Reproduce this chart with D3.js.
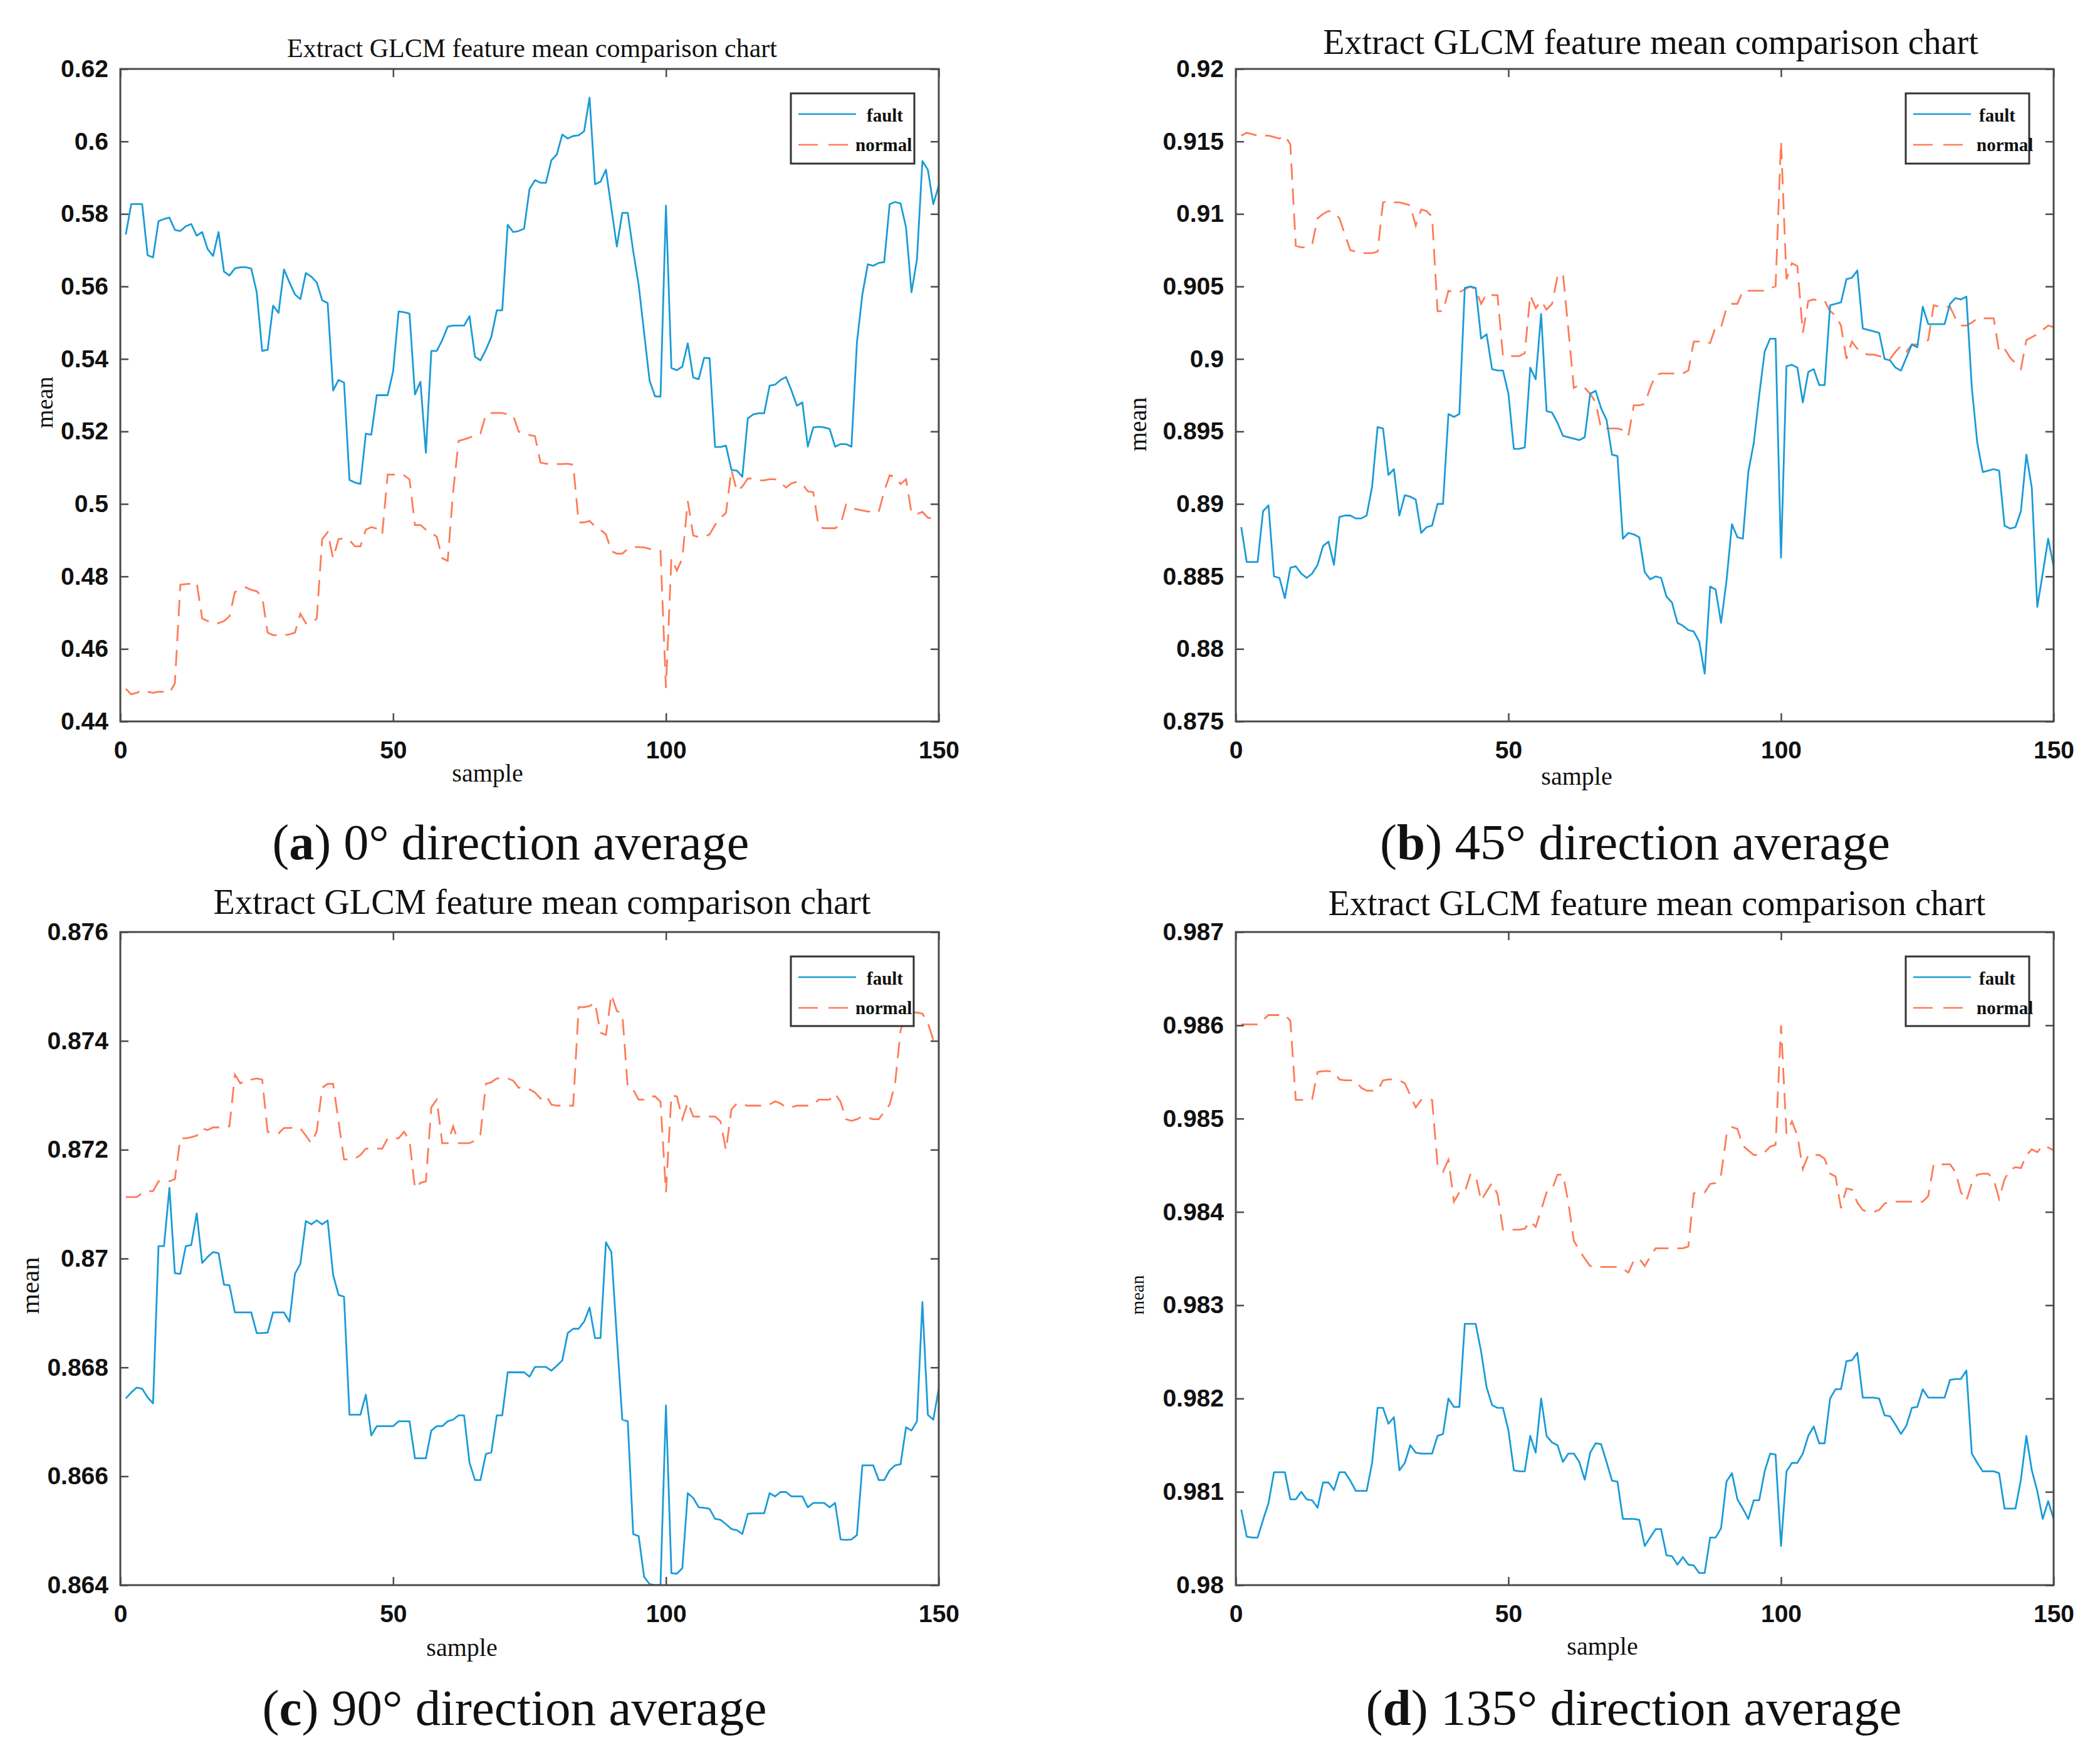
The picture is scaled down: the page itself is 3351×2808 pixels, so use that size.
<!DOCTYPE html>
<html>
<head>
<meta charset="utf-8">
<script src="https://cdn.jsdelivr.net/npm/d3@7"></script>
<style>
  body { margin: 0; background: #fff; }
  svg { display: block; }
</style>
</head>
<body>
<div id="figure"></div>
<script>
// GLCM feature mean comparison - four direction panels

// Shared axis values
var xTicks = [0, 50, 100, 150];
var chartTitle = "Extract GLCM feature mean comparison chart";
var seriesNames = ["fault", "normal"];

// (a) 0 degree
var yTicksA = [0.44, 0.46, 0.48, 0.50, 0.52, 0.54, 0.56, 0.58, 0.60, 0.62];
var faultA = [
  0.5743, 0.5827, 0.5827, 0.5827, 0.5686, 0.568, 0.578, 0.5786, 0.579, 0.5756,
  0.5753, 0.5766, 0.5772, 0.574, 0.575, 0.5703, 0.5684, 0.575, 0.5641, 0.563,
  0.565, 0.5653, 0.5653, 0.5649, 0.5584, 0.5422, 0.5425, 0.5547, 0.5527, 0.5647,
  0.5611, 0.5578, 0.5565, 0.5637, 0.5627, 0.5611, 0.5562, 0.5554, 0.5313, 0.5342,
  0.5335, 0.5066, 0.5059, 0.5055, 0.5194, 0.5191, 0.53, 0.53, 0.53, 0.5366,
  0.5531, 0.5529, 0.5525, 0.5302, 0.5337, 0.5141, 0.5422, 0.5422, 0.5452, 0.5489,
  0.5492, 0.5492, 0.5492, 0.5518, 0.5406, 0.5396, 0.5425, 0.5461, 0.5534, 0.5534,
  0.577, 0.575, 0.5753, 0.5759, 0.5869, 0.5893, 0.5886, 0.5886, 0.5948, 0.5964,
  0.6019, 0.6008, 0.6015, 0.6017, 0.6028, 0.6121, 0.5882, 0.5889, 0.5922, 0.5816,
  0.571, 0.5803, 0.5803, 0.5697, 0.5604, 0.5472, 0.534, 0.5297, 0.5296, 0.5823,
  0.5375, 0.5369, 0.5379, 0.5443, 0.5349, 0.5344, 0.5403, 0.5402, 0.5157, 0.5157,
  0.5161, 0.5094, 0.5092, 0.5075, 0.5236, 0.5247, 0.525, 0.525, 0.5326, 0.5329,
  0.5342, 0.535, 0.5313, 0.5271, 0.528, 0.5158, 0.5211, 0.5213, 0.5211, 0.5207,
  0.5158, 0.5165, 0.5165, 0.5158, 0.5445, 0.5578, 0.5661, 0.5657, 0.5665, 0.5667,
  0.5827, 0.5833, 0.5829, 0.5763, 0.5584, 0.5674, 0.5946, 0.5922, 0.5827, 0.5878
];
var normalA = [
  0.449, 0.4475, 0.4479, 0.4486, 0.4482, 0.4479, 0.4482, 0.4482, 0.4479, 0.4505,
  0.4777, 0.4779, 0.478, 0.4783, 0.4684, 0.4677, 0.4671, 0.4671, 0.4677, 0.469,
  0.4757, 0.4763, 0.477, 0.4763, 0.4759, 0.4744, 0.4645, 0.4638, 0.4638, 0.4638,
  0.464, 0.4645, 0.4697, 0.4671, 0.4671, 0.4684, 0.4903, 0.4922, 0.485, 0.4903,
  0.4905, 0.49, 0.4883, 0.4883, 0.4929, 0.4936, 0.4932, 0.4916, 0.5081, 0.5081,
  0.5079, 0.5079, 0.5068, 0.4942, 0.4942, 0.4929, 0.4922, 0.4909, 0.485, 0.4843,
  0.5035, 0.5174, 0.5178, 0.5183, 0.519, 0.5194, 0.5247, 0.5251, 0.5251, 0.5251,
  0.5247, 0.5244, 0.52, 0.5194, 0.519, 0.5187, 0.5114, 0.5111, 0.5111, 0.511,
  0.511, 0.5111, 0.5108, 0.4949, 0.4949, 0.4953, 0.4938, 0.4929, 0.4916, 0.487,
  0.4863, 0.4863, 0.4876, 0.4881, 0.4881, 0.488, 0.4876, 0.4873, 0.487, 0.4492,
  0.485, 0.4816, 0.485, 0.5008, 0.4913, 0.4909, 0.4909, 0.4916, 0.4942, 0.4962,
  0.4975, 0.5094, 0.5035, 0.5048, 0.507, 0.507, 0.5065, 0.5065, 0.5068, 0.5068,
  0.5059, 0.5045, 0.5057, 0.5061, 0.5055, 0.5035, 0.5032, 0.4936, 0.4933, 0.4933,
  0.4933, 0.4942, 0.4998, 0.4989, 0.4985, 0.4982, 0.4979, 0.4979, 0.4978, 0.5035,
  0.5079, 0.5075, 0.5055, 0.5068, 0.4975, 0.4972, 0.4978, 0.4962, 0.4959, 0.4962
];

// (b) 45 degree
var yTicksB = [0.875, 0.88, 0.885, 0.89, 0.895, 0.90, 0.905, 0.91, 0.915, 0.92];
var faultB = [
  0.8884, 0.886, 0.886, 0.886, 0.8895, 0.8899, 0.885, 0.8849, 0.8835, 0.8856,
  0.8857, 0.8852, 0.8849, 0.8852, 0.8858, 0.8871, 0.8874, 0.8858, 0.8891, 0.8892,
  0.8892, 0.889, 0.889, 0.8892, 0.8912, 0.8953, 0.8952, 0.892, 0.8924, 0.8892,
  0.8906, 0.8905, 0.8903, 0.888, 0.8884, 0.8885, 0.89, 0.89, 0.8962, 0.896,
  0.8962, 0.9049, 0.905, 0.9049, 0.9014, 0.9017, 0.8993, 0.8992, 0.8992, 0.8976,
  0.8938, 0.8938, 0.8939, 0.8994, 0.8986, 0.9031, 0.8964, 0.8963, 0.8956, 0.8947,
  0.8946, 0.8945, 0.8944, 0.8946, 0.8976, 0.8978, 0.8966, 0.8958, 0.8934, 0.8933,
  0.8876, 0.888, 0.8879, 0.8877, 0.8853, 0.8848, 0.885, 0.8849, 0.8836, 0.8832,
  0.8818, 0.8816, 0.8813, 0.8812, 0.8805, 0.8783, 0.8843, 0.8841, 0.8818, 0.8847,
  0.8886, 0.8877, 0.8876, 0.8922, 0.8942, 0.8975, 0.9005, 0.9014, 0.9014, 0.8863,
  0.8995, 0.8996, 0.8994, 0.897, 0.8991, 0.8993, 0.8982, 0.8982, 0.9037, 0.9038,
  0.9039, 0.9055, 0.9056, 0.9061, 0.9021, 0.902, 0.9019, 0.9018, 0.9, 0.8999,
  0.8994, 0.8992, 0.9001, 0.901, 0.9008, 0.9036, 0.9024, 0.9024, 0.9024, 0.9024,
  0.9038, 0.9042, 0.9041, 0.9043, 0.898, 0.8942, 0.8922, 0.8923, 0.8924, 0.8923,
  0.8885, 0.8883, 0.8884, 0.8895, 0.8934, 0.8911, 0.8829, 0.8852, 0.8876, 0.8857
];
var normalB = [
  0.9154, 0.9156, 0.9155, 0.9154, 0.9154, 0.9154, 0.9153, 0.9152, 0.9154, 0.9148,
  0.9078, 0.9077, 0.9077, 0.9079, 0.9097, 0.91, 0.9102, 0.9101, 0.9097, 0.9086,
  0.9075, 0.9074, 0.9073, 0.9073, 0.9073, 0.9074, 0.9108, 0.9109, 0.9108, 0.9108,
  0.9107, 0.9106, 0.9092, 0.9103, 0.9102, 0.9098, 0.9033, 0.9033, 0.9047, 0.9046,
  0.9046, 0.9048, 0.905, 0.9048, 0.9038, 0.9045, 0.9044, 0.9044, 0.9002, 0.9002,
  0.9002, 0.9002, 0.9004, 0.9044, 0.9035, 0.904, 0.9034, 0.9038, 0.9057, 0.9059,
  0.902, 0.898, 0.8982, 0.898, 0.8976, 0.897, 0.8952, 0.8952, 0.8952, 0.8952,
  0.8951, 0.8947, 0.8968, 0.8968, 0.8969, 0.898, 0.8989, 0.899, 0.899, 0.899,
  0.899, 0.899, 0.8992, 0.9012, 0.9012, 0.9011, 0.9011, 0.9022, 0.9022, 0.9035,
  0.9038, 0.9038, 0.9047, 0.9047, 0.9047, 0.9047, 0.9047, 0.9049, 0.905, 0.915,
  0.9055, 0.9066, 0.9064, 0.9018, 0.904, 0.9041, 0.904, 0.904, 0.9033, 0.903,
  0.9023, 0.9, 0.9012, 0.9007, 0.9004, 0.9003, 0.9003, 0.9002, 0.9001, 0.9,
  0.9005, 0.9009, 0.9005, 0.901, 0.901, 0.9011, 0.9013, 0.9037, 0.9036, 0.9036,
  0.9036, 0.9028, 0.9023, 0.9023, 0.9025, 0.9028, 0.9028, 0.9028, 0.9028, 0.9005,
  0.9007, 0.9001, 0.8997, 0.8993, 0.9013, 0.9015, 0.9017, 0.902, 0.9023, 0.9022
];

// (c) 90 degree
var yTicksC = [0.864, 0.866, 0.868, 0.870, 0.872, 0.874, 0.876];
var faultC = [
  0.86743, 0.86754, 0.86763, 0.86761, 0.86745, 0.86734, 0.87023, 0.87023, 0.8713, 0.86973,
  0.86972, 0.87023, 0.87025, 0.87083, 0.86992, 0.87003, 0.87012, 0.8701, 0.86952, 0.86951,
  0.86901, 0.86901, 0.86901, 0.86901, 0.86863, 0.86863, 0.86864, 0.86901, 0.86901, 0.86901,
  0.86884, 0.86972, 0.8699, 0.87069, 0.87063, 0.8707, 0.87063, 0.8707, 0.8697, 0.86933,
  0.8693, 0.86713, 0.86713, 0.86713, 0.8675, 0.86675, 0.86692, 0.86692, 0.86692, 0.86692,
  0.86701, 0.86701, 0.86701, 0.86633, 0.86633, 0.86633, 0.86684, 0.86692, 0.86692, 0.86701,
  0.86704, 0.86712, 0.86712, 0.86625, 0.86593, 0.86593, 0.86641, 0.86644, 0.86712, 0.86712,
  0.86791, 0.86791, 0.86791, 0.86791, 0.86783, 0.86801, 0.86801, 0.86801, 0.86794, 0.86803,
  0.86813, 0.86863, 0.86871, 0.86871, 0.86884, 0.8691, 0.86854, 0.86854, 0.8703, 0.87012,
  0.86855, 0.86704, 0.86701, 0.86494, 0.8649, 0.86415, 0.86402, 0.864, 0.864, 0.8673,
  0.86422, 0.86421, 0.86431, 0.86569, 0.8656, 0.86543, 0.86542, 0.8654, 0.86522, 0.8652,
  0.86512, 0.86503, 0.86501, 0.86494, 0.86531, 0.86532, 0.86532, 0.86532, 0.86569, 0.86563,
  0.86571, 0.86571, 0.86563, 0.86563, 0.86563, 0.86543, 0.86551, 0.86551, 0.86551, 0.86543,
  0.86551, 0.86484, 0.86483, 0.86484, 0.86492, 0.8662, 0.8662, 0.8662, 0.86593, 0.86593,
  0.86611, 0.8662, 0.86622, 0.8669, 0.86684, 0.86701, 0.8692, 0.86713, 0.86704, 0.86761
];
var normalC = [
  0.87113, 0.87113, 0.87113, 0.8712, 0.87124, 0.87124, 0.87142, 0.87142, 0.87142, 0.87146,
  0.87221, 0.87221, 0.87223, 0.87226, 0.87239, 0.87236, 0.87241, 0.87241, 0.87241, 0.87243,
  0.87338, 0.87322, 0.87329, 0.87329, 0.87331, 0.87329, 0.87233, 0.8723, 0.8723, 0.8724,
  0.8724, 0.87241, 0.87239, 0.87226, 0.87212, 0.87234, 0.87314, 0.87321, 0.87321, 0.87252,
  0.87182, 0.87182, 0.87184, 0.8719, 0.87202, 0.87202, 0.87202, 0.87202, 0.87221, 0.87221,
  0.87221, 0.87233, 0.87217, 0.87129, 0.87139, 0.87142, 0.87278, 0.87292, 0.87212, 0.87212,
  0.87243, 0.87212, 0.87212, 0.87212, 0.87217, 0.87228, 0.87321, 0.87324, 0.87331, 0.87331,
  0.87331, 0.87327, 0.87314, 0.87314, 0.87311, 0.87305, 0.87294, 0.873, 0.87283, 0.87281,
  0.87281, 0.87281, 0.87281, 0.87462, 0.87462, 0.87464, 0.8747, 0.87415, 0.87411, 0.87485,
  0.87455, 0.8745, 0.87314, 0.8731, 0.87292, 0.87292, 0.87298, 0.87298, 0.87288, 0.87122,
  0.873, 0.87298, 0.87256, 0.87287, 0.87261, 0.87261, 0.87261, 0.87261, 0.87261, 0.87252,
  0.87199, 0.87274, 0.87285, 0.87283, 0.87281, 0.87281, 0.87281, 0.87281, 0.87283, 0.87289,
  0.87285, 0.87278, 0.87278, 0.87281, 0.87281, 0.87281, 0.87283, 0.87292, 0.87292, 0.87292,
  0.87303, 0.87288, 0.87256, 0.87253, 0.87256, 0.87261, 0.87259, 0.87256, 0.87256, 0.8727,
  0.87283, 0.87322, 0.87419, 0.87452, 0.87452, 0.87452, 0.8745, 0.87433, 0.87402, 0.87397
];

// (d) 135 degree
var yTicksD = [0.980, 0.981, 0.982, 0.983, 0.984, 0.985, 0.986, 0.987];
var faultD = [
  0.98081, 0.98052, 0.98051, 0.98051, 0.9807, 0.98088, 0.98121, 0.98121, 0.98121, 0.98092,
  0.98092, 0.981, 0.98092, 0.98091, 0.98083, 0.9811, 0.9811, 0.98102, 0.98121, 0.98121,
  0.98112, 0.98101, 0.98101, 0.98101, 0.98131, 0.9819, 0.9819, 0.98173, 0.9818, 0.98123,
  0.98131, 0.9815, 0.98142, 0.98141, 0.98141, 0.98141, 0.9816, 0.98162, 0.982, 0.98191,
  0.98191, 0.9828, 0.9828, 0.9828, 0.9825, 0.98212, 0.98193, 0.9819, 0.9819, 0.98166,
  0.98123, 0.98122, 0.98122, 0.9816, 0.98142, 0.982, 0.9816, 0.98153, 0.9815, 0.98132,
  0.98141, 0.98141, 0.98132, 0.98113, 0.98142, 0.98152, 0.98151, 0.98132, 0.98112, 0.98111,
  0.98071, 0.98071, 0.98071, 0.9807, 0.98042, 0.98051, 0.9806, 0.9806, 0.98032, 0.98031,
  0.98022, 0.9803, 0.98022, 0.98021, 0.98013, 0.98013, 0.98051, 0.98051, 0.98061, 0.98111,
  0.9812, 0.98092, 0.98082, 0.98071, 0.98091, 0.98091, 0.98122, 0.98141, 0.9814, 0.98042,
  0.98122, 0.98131, 0.98131, 0.98141, 0.9816, 0.9817, 0.98152, 0.98152, 0.982, 0.9821,
  0.9821, 0.9824, 0.98241, 0.98249, 0.98201, 0.98201, 0.98201, 0.982, 0.98182, 0.98181,
  0.98172, 0.98162, 0.98171, 0.9819, 0.98191, 0.9821, 0.98201, 0.98201, 0.98201, 0.98201,
  0.9822, 0.98221, 0.98221, 0.9823, 0.98141, 0.98131, 0.98122, 0.98122, 0.98122, 0.9812,
  0.98082, 0.98082, 0.98082, 0.98113, 0.9816, 0.98123, 0.98101, 0.98071, 0.9809, 0.98071
];
var normalD = [
  0.98601, 0.98601, 0.98601, 0.98601, 0.98606, 0.98611, 0.98611, 0.98611, 0.98611, 0.98605,
  0.9852, 0.9852, 0.9852, 0.98521, 0.9855, 0.98551, 0.98551, 0.9855, 0.98542, 0.98541,
  0.98541, 0.9854, 0.98533, 0.9853, 0.9853, 0.9853, 0.98541, 0.98542, 0.98542, 0.98541,
  0.98538, 0.98525, 0.98512, 0.9852, 0.98521, 0.9852, 0.98451, 0.98443, 0.98456, 0.98411,
  0.98421, 0.98421, 0.9844, 0.98439, 0.98412, 0.98422, 0.98431, 0.98419, 0.98381, 0.98381,
  0.98381, 0.98381, 0.98382, 0.9839, 0.98384, 0.98402, 0.98421, 0.98424, 0.9844, 0.9844,
  0.9841, 0.98369, 0.98359, 0.9835, 0.98342, 0.98341, 0.98341, 0.98341, 0.98341, 0.98341,
  0.98339, 0.98335, 0.98348, 0.9835, 0.98342, 0.98352, 0.98361, 0.98361, 0.98361, 0.98361,
  0.98361, 0.98361, 0.98363, 0.9842, 0.98421, 0.98421, 0.9843, 0.98431, 0.9844, 0.98482,
  0.98491, 0.98489, 0.98471, 0.98466, 0.98461, 0.98461, 0.98464, 0.9847, 0.98472, 0.986,
  0.98484, 0.98497, 0.98482, 0.98446, 0.98461, 0.98461, 0.98461, 0.98457, 0.98441, 0.98438,
  0.98404, 0.98425, 0.98424, 0.9841, 0.98402, 0.984, 0.984, 0.98402, 0.98409, 0.98411,
  0.98411, 0.98411, 0.98411, 0.98411, 0.98411, 0.98411, 0.98417, 0.98451, 0.98451, 0.98451,
  0.98451, 0.98443, 0.98421, 0.98412, 0.98431, 0.9844, 0.98441, 0.98441, 0.98435, 0.98414,
  0.98435, 0.98445, 0.98448, 0.98447, 0.98461, 0.98467, 0.98464, 0.98471, 0.98469, 0.98466
];

// Caption pieces
var captionLetters = ["a", "b", "c", "d"];
var captionTexts = [" 0° direction average", " 45° direction average", " 90° direction average", " 135° direction average"];

// Colours
var faultColor = "#1a9bd7";
var normalColor = "#ff7b57";
var axisColor = "#4a4a4a";

// Layout of each panel (pixel positions only)
var panels = [
  { fault: faultA, normal: normalA, yTicks: yTicksA,
    box: [192, 110, 1498, 1151], title: [849, 91, 782], ylab: [71, 642, 38], xlab: [778, 1247],
    legend: [1262, 149, 1459, 261, 121, 103], caption: [815, 1371, 761] },
  { fault: faultB, normal: normalB, yTicks: yTicksB,
    box: [1972, 110, 3277, 1151], title: [2634, 86, 1046], ylab: [1815, 677, 40], xlab: [2516, 1252],
    legend: [3041, 149, 3238, 261, 117, 113], caption: [2609, 1371, 814] },
  { fault: faultC, normal: normalC, yTicks: yTicksC,
    box: [192, 1487, 1498, 2529], title: [865, 1458, 1049], ylab: [47, 2051, 42], xlab: [737, 2642],
    legend: [1262, 1526, 1458, 1637, 121, 103], caption: [821, 2752, 805] },
  { fault: faultD, normal: normalD, yTicks: yTicksD,
    box: [1972, 1487, 3277, 2529], title: [2644, 1460, 1049], ylab: [1815, 2066, 29], xlab: [2557, 2640],
    legend: [3041, 1526, 3238, 1637, 117, 113], caption: [2607, 2752, 855] }
];

var svgWidth = 3351;
var svgHeight = 2808;

var svg = d3.select("#figure").append("svg")
  .attr("width", svgWidth)
  .attr("height", svgHeight);

svg.append("rect").attr("width", svgWidth).attr("height", svgHeight).attr("fill", "#fff");

// Scale a text's font size so it spans the target width
function fitText(sel, target) {
  var len = sel.node().getComputedTextLength();
  var fs = parseFloat(sel.attr("font-size"));
  sel.attr("font-size", (fs * target / len).toFixed(2));
}

function fmtTick(d) {
  return String(parseFloat(d.toFixed(4)));
}

panels.forEach(function(p, k) {
  var x0 = p.box[0], y0 = p.box[1], x1 = p.box[2], y1 = p.box[3];
  var width = x1 - x0;
  var height = y1 - y0;

  var xScale = d3.scaleLinear().domain([0, 150]).range([0, width]);
  var yScale = d3.scaleLinear()
    .domain([p.yTicks[0], p.yTicks[p.yTicks.length - 1]])
    .range([height, 0]);

  var g = svg.append("g").attr("transform", `translate(${x0}, ${y0})`);

  // Clip the lines to the plot box
  var clipId = "clip" + k;
  g.append("clipPath").attr("id", clipId)
    .append("rect").attr("width", width).attr("height", height);

  var line = d3.line()
    .x(function(d, i) { return xScale(i + 1); })
    .y(function(d) { return yScale(d); });

  var plot = g.append("g").attr("clip-path", `url(#${clipId})`);

  plot.append("path")
    .datum(p.normal)
    .attr("fill", "none")
    .attr("stroke", normalColor)
    .attr("stroke-width", 2.8)
    .attr("stroke-dasharray", "26,14")
    .attr("d", line);

  plot.append("path")
    .datum(p.fault)
    .attr("fill", "none")
    .attr("stroke", faultColor)
    .attr("stroke-width", 2.8)
    .attr("stroke-linejoin", "round")
    .attr("d", line);

  // Axes, ticks pointing inward
  var bottomAxis = d3.axisBottom(xScale).tickValues(xTicks).tickSize(-13).tickSizeOuter(0).tickPadding(31);
  var leftAxis = d3.axisLeft(yScale).tickValues(p.yTicks).tickFormat(fmtTick).tickSize(-13).tickSizeOuter(0).tickPadding(19);
  var topAxis = d3.axisTop(xScale).tickValues(xTicks).tickSize(-13).tickSizeOuter(0).tickFormat("");
  var rightAxis = d3.axisRight(yScale).tickValues(p.yTicks).tickSize(-13).tickSizeOuter(0).tickFormat("");

  var axes = [
    g.append("g").attr("transform", `translate(0, ${height})`).call(bottomAxis),
    g.append("g").call(leftAxis),
    g.append("g").call(topAxis),
    g.append("g").attr("transform", `translate(${width}, 0)`).call(rightAxis)
  ];
  axes.forEach(function(a) {
    a.select(".domain").remove();
    a.selectAll(".tick line").attr("stroke", axisColor).attr("stroke-width", 2.5);
    a.selectAll(".tick text")
      .attr("fill", "#111")
      .attr("font-family", "Liberation Sans, Arial, sans-serif")
      .attr("font-weight", "bold")
      .attr("font-size", 39);
  });

  g.append("rect")
    .attr("width", width)
    .attr("height", height)
    .attr("fill", "none")
    .attr("stroke", axisColor)
    .attr("stroke-width", 3);

  // Title
  var title = svg.append("text")
    .attr("x", p.title[0]).attr("y", p.title[1])
    .attr("text-anchor", "middle")
    .attr("font-family", "Liberation Serif, Times New Roman, serif")
    .attr("font-size", 50)
    .attr("fill", "#111")
    .text(chartTitle);
  fitText(title, p.title[2]);

  // Axis labels
  svg.append("text")
    .attr("x", p.xlab[0]).attr("y", p.xlab[1])
    .attr("text-anchor", "middle")
    .attr("font-family", "Liberation Serif, Times New Roman, serif")
    .attr("font-size", 40)
    .attr("fill", "#111")
    .text("sample");

  svg.append("text")
    .attr("transform", `translate(${p.ylab[0]}, ${p.ylab[1]}) rotate(-90)`)
    .attr("text-anchor", "middle")
    .attr("dy", "0.35em")
    .attr("font-family", "Liberation Serif, Times New Roman, serif")
    .attr("font-size", p.ylab[2])
    .attr("fill", "#111")
    .text("mean");

  // Legend
  var lx0 = p.legend[0], ly0 = p.legend[1], lx1 = p.legend[2], ly1 = p.legend[3];
  var lg = svg.append("g");
  lg.append("rect")
    .attr("x", lx0).attr("y", ly0)
    .attr("width", lx1 - lx0).attr("height", ly1 - ly0)
    .attr("fill", "#fff")
    .attr("stroke", "#333")
    .attr("stroke-width", 3);
  var rows = [
    { name: seriesNames[0], color: faultColor, dash: null, ly: ly0 + 33, tx: lx0 + p.legend[4], ty: ly0 + 45 },
    { name: seriesNames[1], color: normalColor, dash: "31,17", ly: ly0 + 82, tx: lx0 + p.legend[5], ty: ly0 + 92 }
  ];
  rows.forEach(function(r) {
    lg.append("line")
      .attr("x1", lx0 + 12).attr("x2", lx0 + 104)
      .attr("y1", r.ly).attr("y2", r.ly)
      .attr("stroke", r.color)
      .attr("stroke-width", 2.6)
      .attr("stroke-dasharray", r.dash);
    lg.append("text")
      .attr("x", r.tx).attr("y", r.ty)
      .attr("font-family", "Liberation Serif, Times New Roman, serif")
      .attr("font-weight", "bold")
      .attr("font-size", 29)
      .attr("fill", "#111")
      .text(r.name);
  });

  // Caption under the panel
  var cap = svg.append("text")
    .attr("x", p.caption[0]).attr("y", p.caption[1])
    .attr("text-anchor", "middle")
    .attr("font-family", "Liberation Serif, Times New Roman, serif")
    .attr("font-size", 74)
    .attr("fill", "#111");
  cap.append("tspan").text("(");
  cap.append("tspan").attr("font-weight", "bold").text(captionLetters[k]);
  cap.append("tspan").text(")" + captionTexts[k]);
  fitText(cap, p.caption[2]);
});
</script>
</body>
</html>
